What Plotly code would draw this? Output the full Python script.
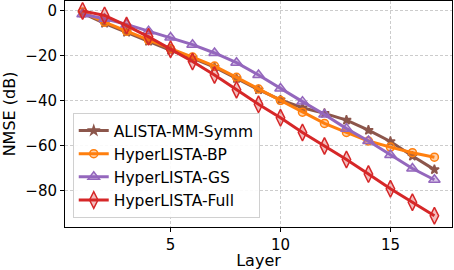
import plotly.graph_objects as go

layers = list(range(1, 18))
alista_mm_symm = [-1.0, -5.5, -9.5, -13.5, -17.5, -21.0, -25.0, -30.0, -35.0, -39.5, -43.0, -45.5, -48.5, -53.0, -58.0, -64.5, -70.5]
hyper_bp = [-0.5, -5.0, -9.0, -13.0, -16.8, -20.5, -24.5, -29.5, -34.7, -39.8, -45.0, -50.0, -54.0, -57.8, -60.5, -63.0, -65.0]
hyper_gs = [-1.5, -3.5, -6.0, -9.0, -11.8, -15.0, -18.7, -23.0, -28.5, -34.5, -40.3, -46.0, -52.3, -57.8, -64.0, -70.0, -75.0]
hyper_full = [0.0, -2.0, -6.5, -11.5, -17.0, -22.5, -28.5, -35.0, -41.5, -47.5, -54.0, -60.0, -66.0, -72.5, -79.0, -85.0, -91.0]

series = [
    ("ALISTA-MM-Symm", alista_mm_symm, "#8c564b", "rgba(140,86,75,1)", "star", 7),
    ("HyperLISTA-BP", hyper_bp, "#ff7f0e", "rgba(255,127,14,0.35)", "circle", 8),
    ("HyperLISTA-GS", hyper_gs, "#9467bd", "rgba(148,103,189,0.35)", "triangle-up", 10),
    ("HyperLISTA-Full", hyper_full, "#d62728", "rgba(214,39,40,0.3)", "diamond-tall", 12),
]

fig = go.Figure()
for name, ys, col, fill, sym, size in series:
    fig.add_trace(go.Scatter(
        x=layers, y=ys, name=name, mode="lines+markers",
        line=dict(color=col, width=3),
        marker=dict(symbol=sym, size=size, color=fill, line=dict(color=col, width=1.5)),
    ))

font = "DejaVu Sans, sans-serif"
fig.update_layout(
    width=454, height=270,
    margin=dict(l=65, r=2, t=1, b=43, autoexpand=False),
    paper_bgcolor="white", plot_bgcolor="white",
    font=dict(family=font, size=15, color="black"),
    legend=dict(
        x=0.02, y=0.04, xanchor="left", yanchor="bottom",
        bgcolor="rgba(255,255,255,0.9)", bordercolor="#d0d0d0", borderwidth=1,
        font=dict(size=15.5), itemwidth=30, tracegroupgap=0,
    ),
    showlegend=True,
)
fig.update_xaxes(
    range=[0.2, 17.8], tickvals=[5, 10, 15], automargin=False,
    showline=True, linecolor="black", linewidth=1, mirror=True,
    ticks="outside", ticklen=4, tickcolor="black",
    showgrid=True, gridcolor="#cccccc", griddash="3px,2px", gridwidth=1,
    zeroline=False, tickfont=dict(size=15),
    title=dict(text="Layer", standoff=4, font=dict(size=16)),
)
fig.update_yaxes(
    range=[-96, 4.4], tickvals=[0, -20, -40, -60, -80], automargin=False,
    showline=True, linecolor="black", linewidth=1, mirror=True,
    ticks="outside", ticklen=4, tickcolor="black",
    showgrid=True, gridcolor="#cccccc", griddash="3px,2px", gridwidth=1,
    zeroline=False, tickfont=dict(size=15),
    title=dict(text="NMSE (dB)", standoff=6, font=dict(size=16)),
)
fig.write_html("out.html", config={"displayModeBar": False},
               post_script="document.body.style.margin='0';document.body.style.overflow='hidden';")
